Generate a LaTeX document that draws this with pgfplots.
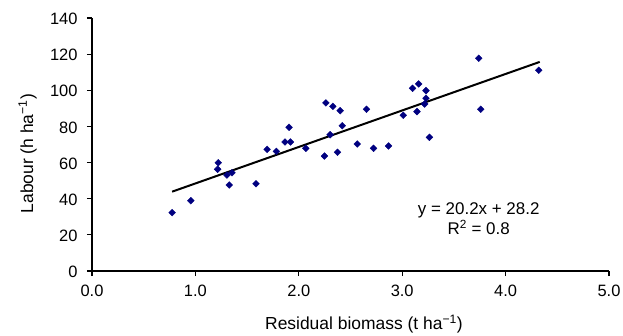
\documentclass[border=0pt]{standalone}
\usepackage{fontspec}
\setmainfont{Liberation Sans}
\usepackage{pgfplots}
\pgfplotsset{compat=1.18}
\definecolor{navy}{RGB}{0,0,128}
\begin{document}
\begin{tikzpicture}[font=\fontsize{17.5}{20}\selectfont]
\begin{axis}[
  at={(0,0)}, anchor=south west,
  scale only axis, width=517bp, height=253bp,
  xmin=0, xmax=5, ymin=0, ymax=140,
  xtick={0,1,2,3,4,5}, ytick={0,20,...,140},
  axis x line*=bottom, axis y line*=left,
  axis line style={black, line width=1.1pt, -},
  tick style={black, line width=1.1pt},
  tick align=outside, major tick length=5bp,
  ticklabel style={font=\fontsize{16.5}{19}\selectfont},
  xticklabel style={yshift=-6bp, /pgf/number format/fixed, /pgf/number format/fixed zerofill, /pgf/number format/precision=1},
  yticklabel style={xshift=-6bp, yshift=-1bp},
  /pgf/number format/assume math mode=true,
  every axis x label/.style={at={(axis description cs:0.526,-0.233)}, anchor=base},
  every axis y label/.style={at={(axis description cs:-0.114,0.464)}, rotate=90, anchor=base},
  xlabel={Residual biomass (t ha\textsuperscript{−1})},
  ylabel={Labour (h ha\textsuperscript{−1})},
  clip=false,
]
\addplot[only marks, mark=square*, mark options={rotate=45}, mark size=2.4pt, color=navy] coordinates {
(0.775,32.3) (0.956,38.9) (1.221,59.9) (1.215,56.3) (1.305,53.1) (1.354,54.4)
(1.328,47.6) (1.586,48.3) (1.693,67.3) (1.783,66.2) (1.867,71.4) (1.919,71.4)
(1.906,79.5) (2.068,67.9) (2.248,63.6) (2.262,93.0) (2.329,91.1) (2.303,75.4)
(2.40,88.7) (2.42,80.4) (2.374,65.7) (2.565,70.3) (2.655,89.5) (2.723,67.9)
(2.868,69.2) (3.01,86.2) (3.10,101.1) (3.159,103.5) (3.143,88.2) (3.23,99.8)
(3.23,95.6) (3.217,92.4) (3.263,74.0) (3.74,117.7) (3.76,89.5) (4.32,111.1)
};
\addplot[black, line width=2pt] coordinates {(0.775,43.9) (4.33,115.7)};
\node[align=center, font=\fontsize{17}{20}\selectfont] at (axis cs:3.74,28.8) {y = 20.2x + 28.2\\R\textsuperscript{2} = 0.8};
\end{axis}
\pgfresetboundingbox
\useasboundingbox (-92bp,-65bp) rectangle (531bp,271bp);
\end{tikzpicture}
\end{document}
